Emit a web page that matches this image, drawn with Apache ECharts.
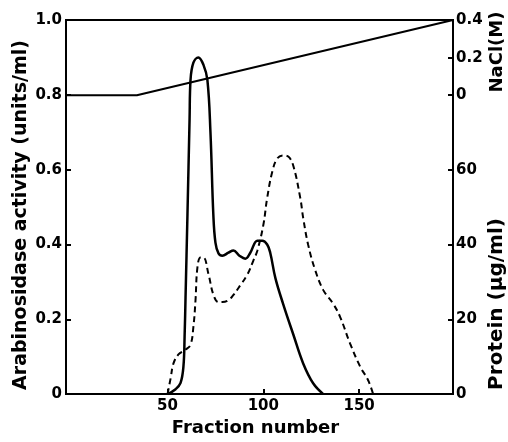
<!DOCTYPE html>
<html>
<head>
<meta charset="utf-8">
<script src="https://cdn.jsdelivr.net/npm/echarts@6/dist/echarts.min.js"></script>
<style>
  html, body { margin: 0; padding: 0; background: #fff; }
  #chart { width: 508px; height: 442px; }
</style>
</head>
<body>
<div id="chart"></div>
<script>
// arabinosidase activity (units/ml), solid line
const activityFractions = [50, 54.2, 56.8, 58.3, 58.9, 59.4, 60.4, 61.5, 62, 63.5, 66.1, 68.75, 70.8, 72.4, 73.9, 75, 76.6, 78.6, 81.8, 84.4, 87.5, 90.6, 93.2, 96.9, 99.5, 102, 103.6, 106.3, 110.4, 115.6, 120.8, 126, 131.3]
const activity = [0, 0.013, 0.03, 0.074, 0.153, 0.26, 0.48, 0.735, 0.84, 0.886, 0.90, 0.88, 0.84, 0.70, 0.48, 0.405, 0.376, 0.37, 0.378, 0.384, 0.37, 0.362, 0.378, 0.41, 0.41, 0.40, 0.378, 0.31, 0.24, 0.16, 0.082, 0.029, 0]

// protein (ug/ml), dashed line
const proteinFractions = [50, 51.6, 53.1, 55.7, 59.4, 62, 63.5, 64.6, 65.6, 67.2, 68.75, 71.4, 74, 76.6, 78.6, 81.8, 84.4, 88, 91.7, 94.8, 96.9, 100, 102, 104.7, 107.3, 110.4, 113, 115.6, 119.3, 120.8, 123.4, 127.1, 131.3, 136.5, 140.1, 145.3, 150.5, 154.7, 157.3]
const protein = [0, 4.2, 8.2, 10.6, 11.9, 13.2, 18, 25.1, 33.9, 36.5, 36.5, 32, 26.5, 24.6, 24.6, 25.1, 26.5, 29.1, 32, 35.7, 38.4, 45.2, 52.4, 59.5, 63, 63.8, 63.5, 61.1, 52.4, 47.1, 39.9, 33.1, 27.8, 24.1, 20.6, 13.5, 7.4, 3.7, 0]

// NaCl gradient (M)
const gradientFractions = [-3, 34, 199]
const nacl = [0, 0, 0.4]

const xTicks = [50, 100, 150]
const activityTicks = [0, 0.2, 0.4, 0.6, 0.8, 1.0]
const proteinTicks = [0, 20, 40, 60]
const naclTicks = [0, 0.2, 0.4]

const font = 'DejaVu Sans'
const pairs = (xs, ys) => xs.map((x, i) => [x, ys[i]])

const chart = echarts.init(document.getElementById('chart'))

chart.setOption({
  animation: false,
  grid: {
    left: 66,
    right: 55,
    top: 20,
    bottom: 44,
    show: true,
    borderColor: '#000',
    borderWidth: 2
  },
  xAxis: {
    type: 'value',
    min: -3,
    max: 199,
    name: 'Fraction number',
    nameLocation: 'middle',
    nameGap: 23,
    nameTextStyle: { color: '#000', fontFamily: font, fontWeight: 'bold', fontSize: 18, padding: [0, 8, 0, 0] },
    axisLine: { lineStyle: { color: '#000', width: 2 } },
    axisTick: { inside: true, length: 5, customValues: xTicks, lineStyle: { color: '#000', width: 2 } },
    axisLabel: { customValues: xTicks, color: '#000', fontFamily: font, fontWeight: 'bold', fontSize: 15, margin: 5 },
    splitLine: { show: false }
  },
  yAxis: [
    {
      type: 'value',
      min: 0,
      max: 1,
      position: 'left',
      axisLine: { show: true, onZero: false, lineStyle: { color: '#000', width: 2 } },
      axisTick: { show: true, inside: true, length: 5, customValues: activityTicks, lineStyle: { color: '#000', width: 2 } },
      axisLabel: {
        customValues: activityTicks,
        color: '#000', fontFamily: font, fontWeight: 'bold', fontSize: 15, margin: 4,
        formatter: v => v === 0 ? '0' : v.toFixed(1)
      },
      splitLine: { show: false }
    },
    {
      type: 'value',
      min: 0,
      max: 100,
      position: 'right',
      axisLine: { show: true, onZero: false, lineStyle: { color: '#000', width: 2 } },
      axisTick: { show: true, inside: true, length: 5, customValues: proteinTicks, lineStyle: { color: '#000', width: 2 } },
      axisLabel: { customValues: proteinTicks, color: '#000', fontFamily: font, fontWeight: 'bold', fontSize: 15, margin: 3 },
      splitLine: { show: false }
    },
    {
      type: 'value',
      min: -1.589,
      max: 0.4,
      position: 'right',
      axisLine: { show: false, onZero: false },
      axisTick: { show: true, inside: true, length: 5, customValues: naclTicks, lineStyle: { color: '#000', width: 2 } },
      axisLabel: {
        customValues: naclTicks,
        color: '#000', fontFamily: font, fontWeight: 'bold', fontSize: 15, margin: 3,
        formatter: v => v === 0 ? '0' : v.toFixed(1)
      },
      splitLine: { show: false }
    }
  ],
  graphic: [
    {
      type: 'text',
      x: 21, y: 215, rotation: Math.PI / 2,
      style: { text: 'Arabinosidase activity (units/ml)', fill: '#000', font: 'bold 19px "DejaVu Sans"', align: 'center', verticalAlign: 'middle' }
    },
    {
      type: 'text',
      x: 497, y: 52, rotation: Math.PI / 2,
      style: { text: 'NaCl(M)', fill: '#000', font: 'bold 18px "DejaVu Sans"', align: 'center', verticalAlign: 'middle' }
    },
    {
      type: 'text',
      x: 497, y: 304, rotation: Math.PI / 2,
      style: { text: 'Protein (μg/ml)', fill: '#000', font: 'bold 20px "DejaVu Sans"', align: 'center', verticalAlign: 'middle' }
    }
  ],
  series: [
    {
      name: 'Arabinosidase',
      type: 'line',
      yAxisIndex: 0,
      data: pairs(activityFractions, activity),
      smooth: 0.4,
      symbol: 'none',
      lineStyle: { color: '#000', width: 2.5 }
    },
    {
      name: 'Protein',
      type: 'line',
      yAxisIndex: 1,
      data: pairs(proteinFractions, protein),
      smooth: 0.4,
      symbol: 'none',
      lineStyle: { color: '#000', width: 2, type: [6, 4] }
    },
    {
      name: 'NaCl',
      type: 'line',
      yAxisIndex: 2,
      data: pairs(gradientFractions, nacl),
      symbol: 'none',
      lineStyle: { color: '#000', width: 2 }
    }
  ]
})
</script>
</body>
</html>
